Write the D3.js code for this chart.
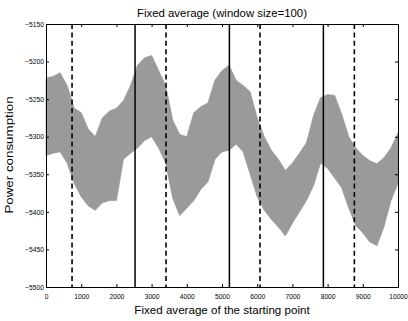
<!DOCTYPE html>
<html>
<head>
<meta charset="utf-8">
<script src="https://cdn.jsdelivr.net/npm/d3@7"></script>
<style>
  body { margin: 0; background: #fff; }
  text { font-family: "Liberation Sans", Arial, Helvetica, sans-serif; }
</style>
</head>
<body>
<svg width="408" height="321"></svg>
<script>
// sample positions of the signal envelope (starting point)
const sampleX = [0, 200, 400, 600, 800, 1000, 1200, 1400, 1600, 1800,
  2000, 2200, 2400, 2600, 2800, 3000, 3200, 3400, 3600, 3800,
  4000, 4200, 4400, 4600, 4800, 5000, 5200, 5400, 5600, 5800,
  6000, 6200, 6400, 6600, 6800, 7000, 7200, 7400, 7600, 7800,
  8000, 8200, 8400, 8600, 8800, 9000, 9200, 9400, 9600, 9800, 10000];

// upper and lower edge of the noisy power signal
const upper = [-5222, -5220, -5215, -5232, -5262, -5268, -5290, -5300, -5275, -5266,
  -5262, -5252, -5232, -5205, -5195, -5192, -5212, -5232, -5278, -5297,
  -5300, -5268, -5260, -5255, -5225, -5212, -5205, -5225, -5232, -5240,
  -5275, -5300, -5318, -5330, -5345, -5335, -5322, -5308, -5272, -5248,
  -5244, -5245, -5270, -5300, -5315, -5325, -5332, -5336, -5328, -5315, -5295];

const lower = [-5325, -5322, -5320, -5335, -5362, -5380, -5392, -5398, -5388, -5385,
  -5385, -5330, -5322, -5315, -5305, -5300, -5315, -5335, -5382, -5405,
  -5395, -5385, -5370, -5360, -5330, -5320, -5318, -5310, -5320, -5350,
  -5380, -5398, -5410, -5420, -5432, -5415, -5400, -5385, -5365, -5335,
  -5342, -5355, -5368, -5395, -5418, -5428, -5440, -5445, -5420, -5385, -5362];

const solidLines = [2530, 5210, 7880];
const dashedLines = [740, 3410, 6080, 8760];

const xTicks = [0, 1000, 2000, 3000, 4000, 5000, 6000, 7000, 8000, 9000, 10000];
const yTicks = [-5500, -5450, -5400, -5350, -5300, -5250, -5200, -5150];

const svg = d3.select('svg');
const margin = { top: 24, right: 10, bottom: 34, left: 46 };
const width = 352;
const height = 263;

const x = d3.scaleLinear().domain([0, 10000]).range([0, width]);
const y = d3.scaleLinear().domain([-5500, -5150]).range([height, 0]);

const g = svg.append('g')
  .attr('transform', `translate(${margin.left},${margin.top})`);

const series = sampleX.map((d, i) => ({ x: d, hi: upper[i], lo: lower[i] }));

g.append('path')
  .datum(series)
  .attr('fill', '#9a9a9a')
  .attr('stroke', '#9a9a9a')
  .attr('stroke-width', 0.8)
  .attr('d', d3.area()
    .x((d) => x(d.x))
    .y0((d) => y(d.lo))
    .y1((d) => y(d.hi)));

g.selectAll('.solid')
  .data(solidLines)
  .enter()
  .append('line')
  .attr('class', 'solid')
  .attr('x1', (d) => x(d)).attr('x2', (d) => x(d))
  .attr('y1', 0).attr('y2', height)
  .attr('stroke', '#000')
  .attr('stroke-width', 1.5);

g.selectAll('.dashed')
  .data(dashedLines)
  .enter()
  .append('line')
  .attr('class', 'dashed')
  .attr('x1', (d) => x(d)).attr('x2', (d) => x(d))
  .attr('y1', 0).attr('y2', height)
  .attr('stroke', '#000')
  .attr('stroke-width', 1.6)
  .attr('stroke-dasharray', '5,3.4');

const fmt = (d) => String(d).replace('-', '\u2212');

g.append('g')
  .attr('transform', `translate(0,${height})`)
  .call(d3.axisBottom(x).tickValues(xTicks).tickFormat(d3.format('d'))
    .tickSizeInner(-3).tickSizeOuter(0).tickPadding(7));

g.append('g')
  .call(d3.axisLeft(y).tickValues(yTicks).tickFormat(fmt)
    .tickSizeInner(-3).tickSizeOuter(0).tickPadding(2));

g.append('g')
  .call(d3.axisTop(x).tickValues(xTicks).tickSizeInner(-3).tickSizeOuter(0).tickFormat(''));

g.append('g')
  .attr('transform', `translate(${width},0)`)
  .call(d3.axisRight(y).tickValues(yTicks).tickSizeInner(-3).tickSizeOuter(0).tickFormat(''));

g.selectAll('.domain').remove();
g.selectAll('.tick text')
  .attr('font-size', 6.7)
  .attr('font-family', '"Liberation Sans", Arial, sans-serif')
  .attr('fill', '#000');
g.selectAll('.tick line').attr('stroke', '#000');

g.append('rect')
  .attr('x', 0.5).attr('y', 0.5)
  .attr('width', width).attr('height', height)
  .attr('fill', 'none')
  .attr('stroke', '#000')
  .attr('stroke-width', 1);

svg.append('text')
  .attr('x', margin.left + width / 2)
  .attr('y', 16.5)
  .attr('text-anchor', 'middle')
  .attr('font-size', 11.4)
  .text('Fixed average (window size=100)');

svg.append('text')
  .attr('x', margin.left + width / 2)
  .attr('y', 313.5)
  .attr('text-anchor', 'middle')
  .attr('font-size', 11.6)
  .text('Fixed average of the starting point');

svg.append('text')
  .attr('transform', `translate(13,155) rotate(-90) scale(1.15,1)`)
  .attr('text-anchor', 'middle')
  .attr('font-size', 11.6)
  .text('Power consumption');
</script>
</body>
</html>
